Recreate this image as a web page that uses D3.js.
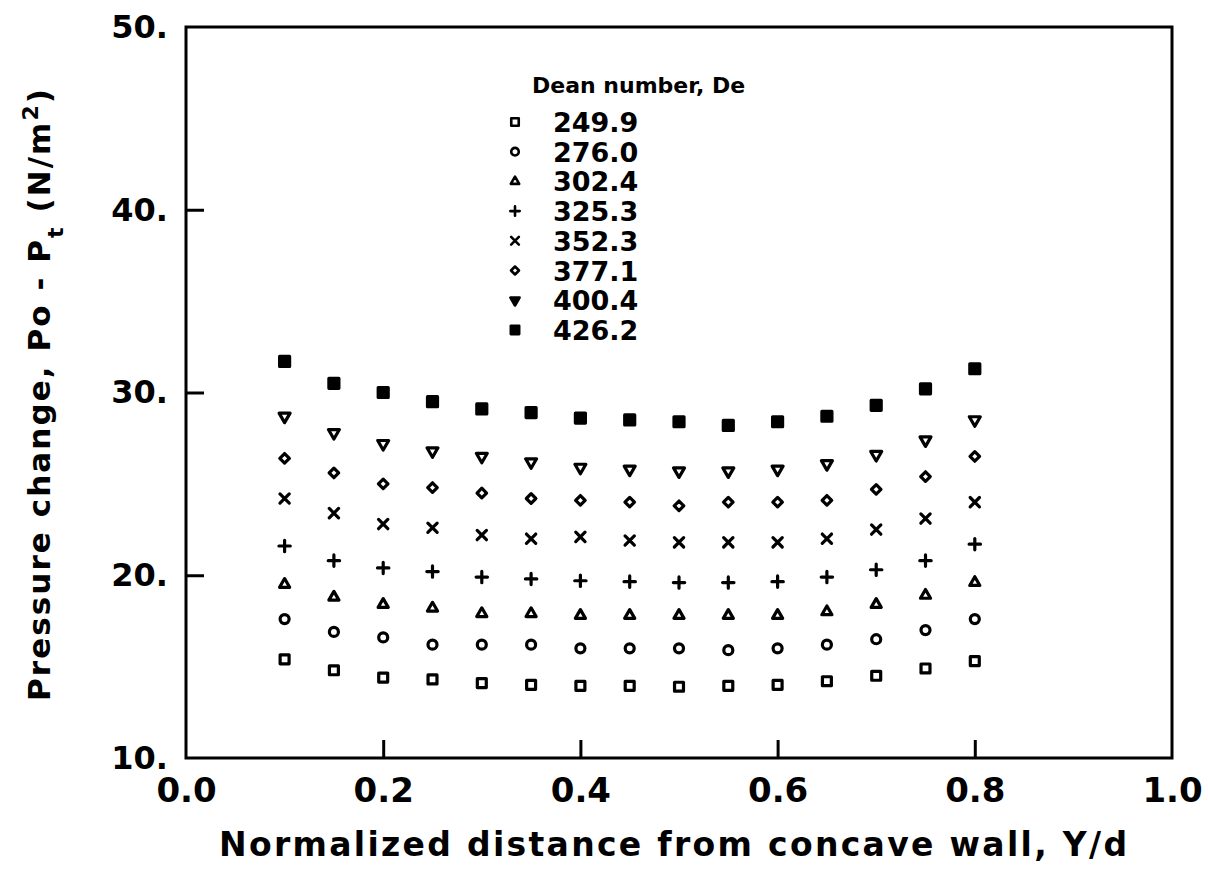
<!DOCTYPE html>
<html>
<head>
<meta charset="utf-8">
<script src="https://cdnjs.cloudflare.com/ajax/libs/d3/7.8.5/d3.min.js"></script>
<style>
    body { margin: 0; background: #fff; }
    svg text { font-family: "DejaVu Sans", sans-serif; font-weight: bold; fill: #000; }
</style>
</head>
<body>
<div id="chart"></div>
<script>
// normalized distance from concave wall, Y/d
let yd = [0.10, 0.15, 0.20, 0.25, 0.30, 0.35, 0.40, 0.45, 0.50, 0.55, 0.60, 0.65, 0.70, 0.75, 0.80];

// pressure change Po - Pt (N/m^2), one list per Dean number
let de249 = [15.4, 14.8, 14.4, 14.3, 14.1, 14.0, 13.95, 13.95, 13.9, 13.95, 14.0, 14.2, 14.5, 14.9, 15.3];
let de276 = [17.6, 16.9, 16.6, 16.2, 16.2, 16.2, 16.0, 16.0, 16.0, 15.9, 16.0, 16.2, 16.5, 17.0, 17.6];
let de302 = [19.5, 18.8, 18.4, 18.2, 17.9, 17.9, 17.8, 17.8, 17.8, 17.8, 17.8, 18.0, 18.4, 18.9, 19.6];
let de325 = [21.6, 20.8, 20.4, 20.2, 19.9, 19.8, 19.7, 19.65, 19.6, 19.6, 19.65, 19.9, 20.3, 20.8, 21.7];
let de352 = [24.2, 23.4, 22.8, 22.6, 22.2, 22.0, 22.1, 21.9, 21.8, 21.8, 21.8, 22.0, 22.5, 23.1, 24.0];
let de377 = [26.4, 25.6, 25.0, 24.8, 24.5, 24.2, 24.1, 24.0, 23.8, 24.0, 24.0, 24.1, 24.7, 25.4, 26.5];
let de400 = [28.7, 27.8, 27.2, 26.8, 26.5, 26.2, 25.9, 25.8, 25.7, 25.7, 25.8, 26.1, 26.6, 27.4, 28.5];
let de426 = [31.7, 30.5, 30.0, 29.5, 29.1, 28.9, 28.6, 28.5, 28.4, 28.2, 28.4, 28.7, 29.3, 30.2, 31.3];

let deLabels = ['249.9', '276.0', '302.4', '325.3', '352.3', '377.1', '400.4', '426.2'];
let series = [de249, de276, de302, de325, de352, de377, de400, de426];

let xTicks = [0.0, 0.2, 0.4, 0.6, 0.8, 1.0];
let yTicks = [10, 20, 30, 40, 50];

// marker look for each series, same order as series
let markers = [
    {type: d3.symbolSquare, size: 80, fill: 'none', rot: 0},
    {type: d3.symbolCircle, size: 64, fill: 'none', rot: 0},
    {type: d3.symbolTriangle, size: 44, fill: 'none', rot: 0},
    {type: d3.symbolPlus || d3.symbolCross, size: 44, fill: 'none', rot: 0},
    {type: d3.symbolX || d3.symbolCross, size: 58, fill: 'none', rot: 0},
    {type: d3.symbolDiamond2 || d3.symbolDiamond, size: 58, fill: 'none', rot: 0},
    {type: d3.symbolTriangle, size: 52, fill: '#fff', rot: 180},
    {type: d3.symbolSquare, size: 100, fill: '#000', rot: 0}
];

let o = initSvg('#chart', 1208, 872);
drawAxes(o);
drawPoints(o);
drawLegend(o);

function initSvg(selector, width, height) {
    let obj = {};
    obj.svg = d3.select(selector).append('svg')
        .attr('width', width)
        .attr('height', height);

    obj.x = d3.scaleLinear().domain([0, 1]).range([186, 1172]);
    obj.y = d3.scaleLinear().domain([10, 50]).range([758, 27]);
    return obj;
}

function drawAxes(o) {
    let x = o.x, y = o.y;

    let xAxis = d3.axisBottom(x)
        .tickValues(xTicks)
        .tickSizeInner(-18)
        .tickSizeOuter(0)
        .tickPadding(20)
        .tickFormat(d3.format('.1f'));

    let yAxis = d3.axisLeft(y)
        .tickValues(yTicks)
        .tickSizeInner(-18)
        .tickSizeOuter(0)
        .tickPadding(18)
        .tickFormat(d => d + '.');

    let gx = o.svg.append('g')
        .attr('transform', 'translate(0,' + y(10) + ')')
        .call(xAxis);
    gx.selectAll('text').style('font-size', '34px');

    let gy = o.svg.append('g')
        .attr('transform', 'translate(' + x(0) + ',0)')
        .call(yAxis);
    gy.selectAll('text').style('font-size', '32px');

    [gx, gy].forEach(g => {
        g.select('.domain').remove();
        g.selectAll('line')
            .attr('stroke', '#000')
            .attr('stroke-width', 3)
            .style('display', (d, i, n) => (i === 0 || i === n.length - 1) ? 'none' : null);
    });

    // frame round the plot
    o.svg.append('rect')
        .attr('x', x(0))
        .attr('y', y(50))
        .attr('width', x(1) - x(0))
        .attr('height', y(10) - y(50))
        .attr('fill', 'none')
        .attr('stroke', '#000')
        .attr('stroke-width', 3);

    o.svg.append('text')
        .attr('x', (x(0) + x(1)) / 2 - 6)
        .attr('y', 856)
        .attr('text-anchor', 'middle')
        .attr('textLength', 908)
        .attr('lengthAdjust', 'spacing')
        .style('font-size', '33px')
        .text('Normalized distance from concave wall, Y/d');

    let yt = o.svg.append('text')
        .attr('transform', 'translate(50,395) rotate(-90)')
        .attr('text-anchor', 'middle')
        .attr('textLength', 612)
        .attr('lengthAdjust', 'spacing')
        .style('font-size', '31px');
    yt.append('tspan').text('Pressure change, Po - P');
    yt.append('tspan').attr('baseline-shift', 'sub').style('font-size', '22px').text('t');
    yt.append('tspan').text(' (N/m');
    yt.append('tspan').attr('baseline-shift', 'super').style('font-size', '22px').text('2');
    yt.append('tspan').text(')');
}

function drawPoints(o) {
    series.forEach((vals, i) => {
        let m = markers[i];
        let sym = d3.symbol().type(m.type).size(m.size);
        o.svg.append('g')
            .selectAll('path')
            .data(vals)
            .enter().append('path')
            .attr('d', sym)
            .attr('transform', (d, j) => 'translate(' + o.x(yd[j]) + ',' + o.y(d) + ') rotate(' + m.rot + ')')
            .attr('fill', m.fill)
            .attr('stroke', '#000')
            .attr('stroke-width', 3.2)
            .attr('stroke-linejoin', 'round')
            .attr('stroke-linecap', 'round');
    });
}

function drawLegend(o) {
    let g = o.svg.append('g');

    g.append('text')
        .attr('x', 532)
        .attr('y', 93)
        .style('font-size', '22px')
        .text('Dean number, De');

    deLabels.forEach((lab, i) => {
        let m = markers[i],
            cy = 122 + i * 29.7;
        let sym = d3.symbol().type(m.type).size(m.size * 0.7);
        g.append('path')
            .attr('d', sym)
            .attr('transform', 'translate(515,' + cy + ') rotate(' + m.rot + ')')
            .attr('fill', i === 6 ? '#000' : m.fill)
            .attr('stroke', '#000')
            .attr('stroke-width', 2.6)
            .attr('stroke-linejoin', 'round')
            .attr('stroke-linecap', 'round');
        g.append('text')
            .attr('x', 553)
            .attr('y', cy + 10)
            .style('font-size', '27px')
            .text(lab);
    });
}
</script>
</body>
</html>
